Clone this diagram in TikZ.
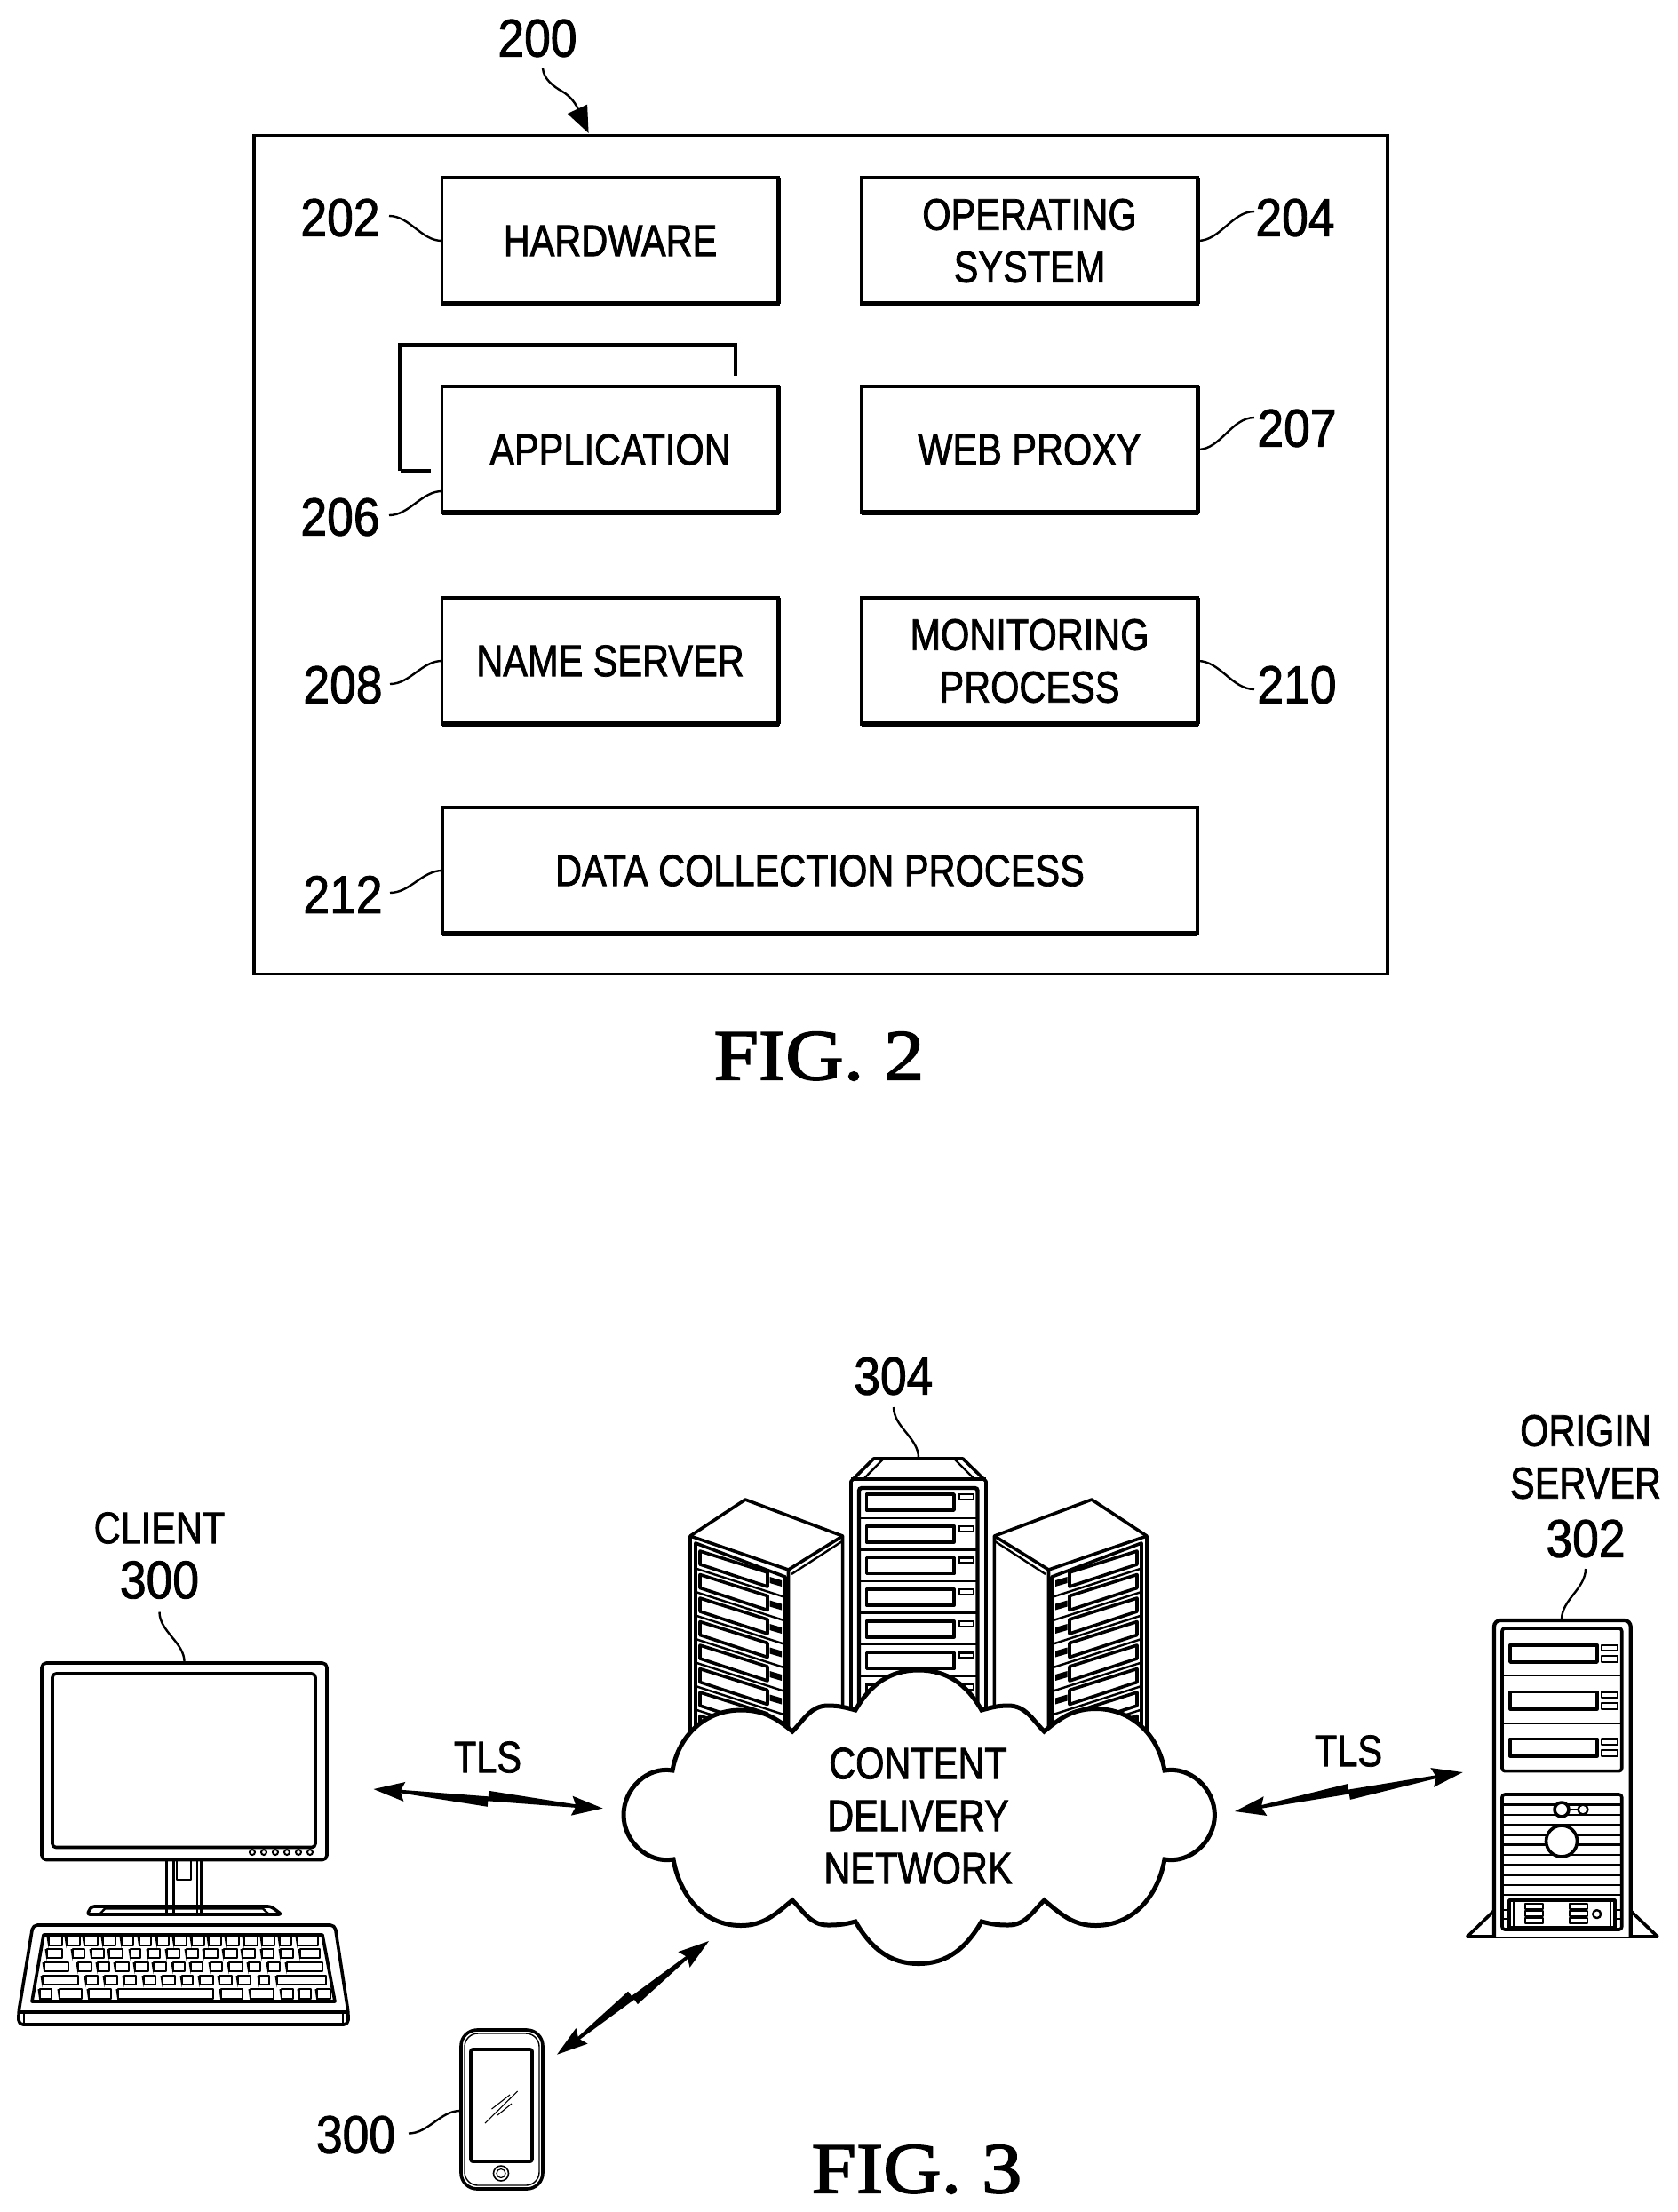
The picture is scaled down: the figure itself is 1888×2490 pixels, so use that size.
\documentclass[tikz,border=0pt]{standalone}
\usepackage{fontspec}
\setmainfont[FakeStretch=.83,FakeBold=1.5]{Liberation Sans}
\newfontfamily\numf[FakeStretch=.89,FakeBold=1.5]{Liberation Sans}
\newfontfamily\figf[FakeBold=2,FakeStretch=1.12]{Liberation Serif}
\usetikzlibrary{arrows.meta,calc}
\tikzset{
  bx/.style={draw,line width=3.8,inner sep=0,outer sep=0,minimum height=142,align=center,font=\fontsize{50}{59}\selectfont},
  wide/.style={minimum width=379},
  num/.style={inner sep=0,font=\numf\fontsize{60}{72}\selectfont},
  lab/.style={inner sep=0,align=center,font=\fontsize{50}{59}\selectfont},
  fig/.style={inner sep=0,font=\figf\fontsize{81}{90}\selectfont},
  lead/.style={line width=2.4,looseness=.9},
  dev/.style={line width=3.6,line join=round},
  thin/.style={line width=2.4,line join=round},
  key/.style={line width=2.6,line join=round},
}
\newcommand\bolt[4]{\fill
  (#1) -- ($(#1)!35pt!(#2)!11pt!#3:(#2)$) -- ($(#1)!31pt!(#2)!1.8pt!#3:(#2)$)
  -- ($(#1)!.5!(#2)!2.5pt!#3:(#2)$) -- ($(#1)!.5!(#2)!9pt!#3:(#2)$)
  -- ($(#2)!31pt!(#1)!1.8pt!#4:(#1)$) -- ($(#2)!35pt!(#1)!11pt!#4:(#1)$)
  -- (#2) -- ($(#2)!35pt!(#1)!11pt!#3:(#1)$) -- ($(#2)!31pt!(#1)!1.8pt!#3:(#1)$)
  -- ($(#1)!.5!(#2)!2.5pt!#4:(#2)$) -- ($(#1)!.5!(#2)!9pt!#4:(#2)$)
  -- ($(#1)!31pt!(#2)!1.8pt!#4:(#2)$) -- ($(#1)!35pt!(#2)!11pt!#4:(#2)$) -- cycle;}
\newcommand\keys[3]{\foreach \a/\b in {#3}{\draw[key] (\a,#1) rectangle (\b,#2);
  \fill (\a-2.5,#1) -- (\a+1,#1) -- (\a-.5,#2+3) -- cycle;}}
\newcommand\sidetower{%
  \draw[dev] (777,1960) -- (777,1729) -- (839,1688) -- (948.6,1729) -- (948.6,1945);
  \draw[dev] (777,1729) -- (887.5,1767) -- (887.5,1960);
  \draw[dev] (887.5,1767) -- (948.6,1729);
  \draw[thin] (891,1772) -- (948,1735);
  \draw[dev] (783,1960) -- (783,1737) -- (884,1775) -- (884,1960);
  \foreach \i in {0,...,7}{
    \draw[dev] (788,1746+26.5*\i) -- (864,1770+26.5*\i) -- (864,1786+26.5*\i) -- (788,1761+26.5*\i) -- cycle;
    \fill (866.5,1775+26.5*\i) -- (880,1779+26.5*\i) -- (880,1786+26.5*\i) -- (866.5,1782+26.5*\i) -- cycle;
    \draw[thin] (783,1765.5+26.5*\i) -- (884,1798+26.5*\i);
  }}
\begin{document}
\begin{tikzpicture}[x=1pt,y=-1pt]
\useasboundingbox (0,0) rectangle (1888,2490);
%% FIG 2
\node[draw,line width=3.8,inner sep=0,outer sep=0,minimum width=1276,minimum height=944] (outer) at (924,624.5) {};
\draw[line width=4.6] (450.5,530) -- (450.5,388.5) -- (828,388.5) -- (828,423);
\draw[line width=4.6] (450.5,530) -- (485,530);
\node[bx,wide] (hw) at (687,271) {HARDWARE};
\node[bx,wide] (os) at (1159,271) {OPERATING\\SYSTEM};
\node[bx,wide] (app) at (687,506) {APPLICATION};
\node[bx,wide] (wp) at (1159,506) {WEB PROXY};
\node[bx,wide] (ns) at (687,744) {NAME SERVER};
\node[bx,wide] (mp) at (1159,744) {MONITORING\\PROCESS};
\node[bx,minimum width=850] (dc) at (923,980) {DATA COLLECTION PROCESS};
\foreach \n in {hw,os,app,wp,ns,mp,dc}{
  \draw[line width=5.5] (\n.south west) -- (\n.south east);
  \draw[line width=4.5] (\n.north east) -- (\n.south east);}
\node[num] (n200) at (605,43) {200};
\node[num] (n202) at (383,245) {202};
\node[num] (n204) at (1458,245) {204};
\node[num] (n206) at (383,582) {206};
\node[num] (n207) at (1460,482) {207};
\node[num] (n208) at (386,771) {208};
\node[num] (n210) at (1460,771) {210};
\node[num] (n212) at (386,1007) {212};
\coordinate (c200a) at (611,77);
\coordinate (c200m) at (633,103);
\coordinate (c200b) at (662.6,150);
\draw[lead,-{Stealth[length=30,width=24,inset=0]}] (c200a) to[out=-85,in=150] (c200m) to[out=-30,in=115] (c200b);
\coordinate (c202) at (438,243);
\draw[lead] (c202) to[out=0,in=180] (hw.west);
\coordinate (c206) at (438,580);
\coordinate (t206) at ($(app.west)+(0,47)$);
\draw[lead] (c206) to[out=0,in=180] (t206);
\coordinate (c204) at (1412,238);
\draw[lead] (c204) to[out=180,in=0] (os.east);
\coordinate (c207) at (1412,470);
\draw[lead] (c207) to[out=180,in=0] (wp.east);
\coordinate (c208) at (439,770);
\draw[lead] (c208) to[out=0,in=180] (ns.west);
\coordinate (c210) at (1412,776);
\draw[lead] (c210) to[out=180,in=0] (mp.east);
\coordinate (c212) at (439,1005);
\draw[lead] (c212) to[out=0,in=180] (dc.west);
\node[fig] (fig2) at (922,1189) {FIG. 2};
%% Computer
\draw[dev,rounded corners=5,fill=white] (47,1872) rectangle (368,2093.5);
\draw[dev,rounded corners=4] (59,1884) rectangle (355,2079.5);
\foreach \x in {284,297,310,323,336,349} \draw[line width=2] (\x,2085) circle (3);
\draw[dev] (187.5,2094) -- (187.5,2155) (227,2094) -- (227,2155);
\draw[thin] (195.5,2094) -- (195.5,2155) (222,2094) -- (222,2155);
\draw[thin] (199,2094) -- (199,2116) -- (215,2116) -- (215,2094);
\draw[dev,rounded corners=3] (98,2155) -- (103,2146) -- (305,2146) -- (317,2155) -- cycle;
\draw[thin] (112,2155) -- (118,2148.5) -- (296,2148.5) -- (303,2155);
\draw[dev,rounded corners=5,fill=white] (37,2167) -- (377,2167) -- (392,2265) -- (392,2279) -- (21,2279) -- (21,2265) -- cycle;
\draw[dev] (21,2265) -- (392,2265);
\draw[thin] (27,2267) -- (27,2279) (386,2267) -- (386,2279);
\draw[dev] (49,2178) -- (363,2178) -- (377,2253) -- (36,2253) -- cycle;
\keys{2180}{2190}{55/70,75/90,95/110,116/130,137/150,157/170,177/190,196/210,216/230,235/249,255/269,275/290,295/309,315/328,335/358}
\keys{2194}{2204}{53/70,82/95,103/117,123/138,147/158,167/180,188/202,210/223,230/245,252/267,273/287,295/308,316/330,338/360}
\keys{2209}{2219}{50/77,88/103,110/123,130/145,152/167,173/187,195/208,215/228,237/250,258/273,280/293,302/315,323/363}
\keys{2224}{2234}{48/88,97/110,118/132,140/153,162/175,183/197,205/217,225/240,247/261,268/282,292/303,312/367}
\keys{2239}{2250}{45/58,67/92,100/125,133/240,249/273,282/308,317/330,337/350,357/372}
\node[lab] (client) at (179.5,1720) {CLIENT};
\node[num] (n300a) at (179.5,1778.5) {300};
\coordinate (c300a) at (179.5,1814.5);
\coordinate (t300a) at (207.6,1871);
\draw[lead] (c300a) to[out=-90,in=90] (t300a);
%% Phone
\draw[dev,rounded corners=18] (519,2285) rectangle (611,2464);
\draw[line width=1.4,rounded corners=15] (523,2289) rectangle (607,2460);
\draw[dev,rounded corners=2] (530,2307) rectangle (599,2433);
\draw[line width=1.6] (564,2446.5) circle (8.5);
\draw[line width=1.2] (564,2446.5) circle (5);
\draw[line width=1.1] (546,2390) -- (582.6,2354) (553.5,2374) -- (574,2358) (560,2381) -- (576,2368);
\node[num] (n300b) at (400.5,2403) {300};
\coordinate (c300b) at (460,2401.5);
\coordinate (t300b) at (518,2376);
\draw[lead] (c300b) to[out=0,in=180] (t300b);
%% Center tower
\draw[dev] (958,1945) -- (958,1667.5) -- (983.5,1642) -- (1084,1642) -- (1110,1667.5) -- (1110,1945);
\draw[dev] (958,1665) -- (1110,1665);
\draw[thin] (972,1665) -- (994.6,1642) (1074,1642) -- (1097,1665);
\draw[line width=4.4,rounded corners=3] (967,1945) -- (967,1675) -- (1100.5,1675) -- (1100.5,1945);
\foreach \i in {0,...,6}{
  \draw[dev] (975.5,1682+35.7*\i) rectangle (1074,1700+35.7*\i);
  \draw[thin] (1079.5,1682+35.7*\i) rectangle (1096,1688+35.7*\i);
  \draw[thin] (967,1709+35.5*\i) -- (1100.5,1709+35.5*\i);
}
%% Side towers
\sidetower
\begin{scope}[shift={(2068,0)},xscale=-1]\sidetower\end{scope}
\node[num] (n304) at (1005.8,1549) {304};
\coordinate (c304) at (1006,1584);
\coordinate (t304) at (1034,1641);
\draw[lead] (c304) to[out=-90,in=90] (t304);
%% Cloud
\draw[line width=5,fill=white,line join=miter] (757,1993)
  to[out=80,in=180] (834,1925) to[out=0,in=140] (892,1949)
  to[out=45,in=180] (932,1920) to[out=0,in=165] (963,1925)
  to[out=60,in=180] (1034,1880) to[out=0,in=120] (1105,1925)
  to[out=15,in=180] (1135,1920) to[out=0,in=135] (1175.5,1949)
  to[out=40,in=180] (1233.5,1923.5) to[out=0,in=100] (1311,1993)
  to[out=10,in=90] (1367.4,2043) to[out=-90,in=-10] (1311,2093)
  to[out=-100,in=0] (1233.5,2167.5) to[out=180,in=-40] (1175.5,2139)
  to[out=-135,in=0] (1135,2167) to[out=180,in=-15] (1105,2163)
  to[out=-120,in=0] (1034,2210.5) to[out=180,in=-60] (963,2163)
  to[out=-165,in=0] (932,2167) to[out=180,in=-45] (892,2139)
  to[out=-140,in=0] (834,2167.5) to[out=180,in=-80] (758,2093)
  to[out=190,in=-90] (702,2043) to[out=90,in=170] (757,1993) -- cycle;
\node[lab] (cdn) at (1033.5,2044) {CONTENT\\DELIVERY\\NETWORK};
%% Origin server
\draw[dev] (1681.7,2151) -- (1651.7,2180) -- (1866,2180) -- (1835.7,2151);
\draw[line width=4.2,rounded corners=7,fill=white] (1682,2180) -- (1682,1824) -- (1835.7,1824) -- (1835.7,2180);
\draw[dev,rounded corners=3] (1691,1833) rectangle (1825.7,1993.6);
\draw[thin] (1691,1885.7) -- (1825.7,1885.7) (1691,1939.7) -- (1825.7,1939.7);
\foreach \i in {0,52.7,105.8}{
  \draw[dev] (1700,1851.7+\i) rectangle (1798,1871+\i);
  \draw[thin] (1803,1851.7+\i) rectangle (1820.7,1858+\i);
  \draw[thin] (1803,1864+\i) rectangle (1820.7,1871+\i);
}
\draw[dev,rounded corners=3] (1691,2020) rectangle (1825.7,2172);
\foreach \i in {0,...,9} \draw[thin] (1691,2031.4+11.3*\i) -- (1825.7,2031.4+11.3*\i);
\draw[dev,fill=white] (1758,2037) circle (8);
\draw[thin,fill=white] (1782,2037) circle (5.5);
\draw[thin] (1766,2037) -- (1776.5,2037);
\draw[dev,fill=white] (1758,2072.5) circle (17.5);
\draw[dev,fill=white] (1699,2139) rectangle (1817.7,2170);
\draw[thin] (1704,2139) -- (1704,2170) (1813,2139) -- (1813,2170);
\draw[thin] (1691,2150) -- (1699,2150) (1691,2160) -- (1699,2160) (1817.7,2150) -- (1825.7,2150) (1817.7,2160) -- (1825.7,2160);
\foreach \x in {1717,1767}{
  \draw[thin] (\x,2143) rectangle (\x+20,2149) (\x,2151) rectangle (\x+20,2157) (\x,2159) rectangle (\x+20,2165);
}
\draw[thin] (1797.7,2154.6) circle (4.5);
\node[lab] (origin) at (1785,1640) {ORIGIN\\SERVER};
\node[num] (n302) at (1785,1732) {302};
\coordinate (c302) at (1785,1766);
\coordinate (t302) at (1758,1823);
\draw[lead] (c302) to[out=-90,in=90] (t302);
%% TLS links
\node[lab] (tls1) at (549,1978) {TLS};
\node[lab] (tls2) at (1518,1971) {TLS};
\coordinate (b1a) at (420.5,2014);
\coordinate (b1b) at (678.6,2035.6);
\coordinate (b2a) at (1390,2039);
\coordinate (b2b) at (1646.7,1995);
\coordinate (b3a) at (627,2312.7);
\coordinate (b3b) at (798,2185);
\bolt{b1a}{b1b}{90}{-90}
\bolt{b2a}{b2b}{-90}{90}
\bolt{b3a}{b3b}{-90}{90}
\node[fig] (fig3) at (1032,2442) {FIG. 3};
\end{tikzpicture}
\end{document}
